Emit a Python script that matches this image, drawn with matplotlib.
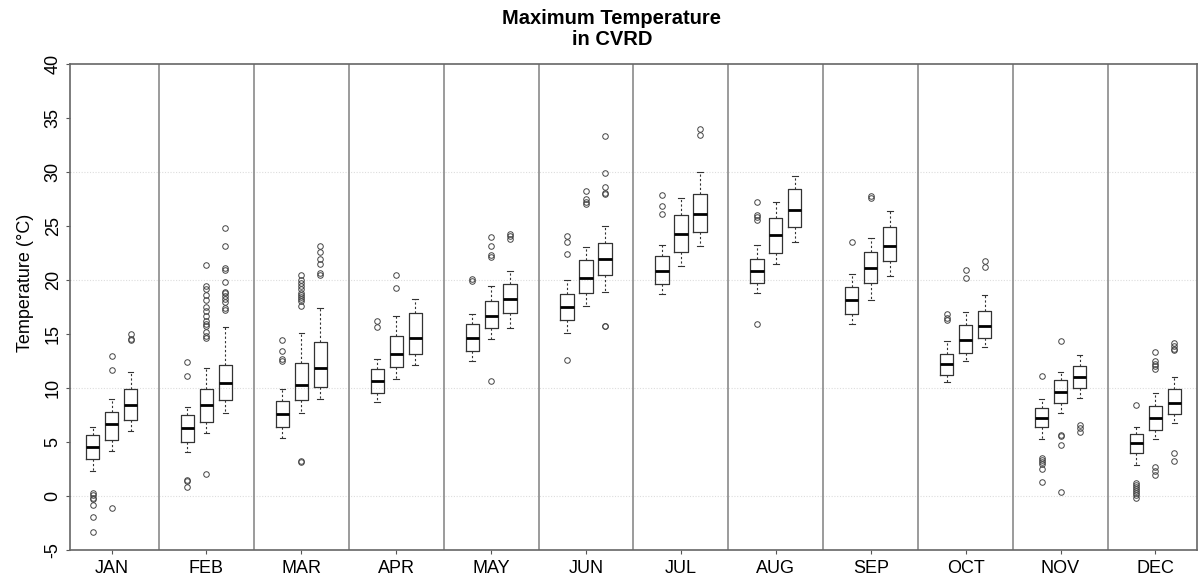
import numpy as np
import matplotlib.pyplot as plt

plt.rcParams['font.family'] = ['Liberation Sans', 'DejaVu Sans']

months = ['JAN', 'FEB', 'MAR', 'APR', 'MAY', 'JUN',
          'JUL', 'AUG', 'SEP', 'OCT', 'NOV', 'DEC']

# three boxes per month (left, middle, right)
whislo = [[2.3, 4.2, 6.0], [4.1, 5.85, 7.7], [5.4, 7.7, 9.0], [8.7, 10.8, 12.1],
          [12.5, 14.5, 15.5], [15.1, 17.6, 18.9], [18.65, 21.3, 23.1], [18.8, 21.45, 23.45],
          [15.9, 18.15, 20.37], [10.5, 12.45, 13.75], [5.3, 7.63, 9.1], [2.9, 5.23, 6.77]]
q1 = [[3.45, 5.2, 7.0], [5.0, 6.83, 8.86], [6.37, 8.86, 10.1], [9.54, 11.9, 13.1],
      [13.45, 15.5, 16.9], [16.3, 18.8, 20.4], [19.63, 22.6, 24.46], [19.7, 22.5, 24.86],
      [16.8, 19.66, 21.76], [11.2, 13.25, 14.64], [6.37, 8.6, 9.94], [3.94, 6.1, 7.54]]
med = [[4.52, 6.7, 8.45], [6.28, 8.43, 10.46], [7.54, 10.3, 11.8], [10.6, 13.1, 14.6],
       [14.6, 16.6, 18.25], [17.5, 20.2, 21.9], [20.8, 24.2, 26.1], [20.8, 24.1, 26.46],
       [18.1, 21.05, 23.16], [12.17, 14.43, 15.76], [7.23, 9.6, 11.0], [4.9, 7.17, 8.6]]
q3 = [[5.6, 7.8, 9.9], [7.45, 9.9, 12.12], [8.8, 12.3, 14.2], [11.75, 14.8, 16.9],
      [15.9, 18.06, 19.6], [18.7, 21.85, 23.4], [22.15, 26.0, 27.9], [21.9, 25.7, 28.37],
      [19.3, 22.6, 24.9], [13.1, 15.85, 17.15], [8.12, 10.7, 12.0], [5.7, 8.3, 9.85]]
whishi = [[6.37, 9.0, 11.45], [8.2, 11.88, 15.63], [9.85, 15.08, 17.35], [12.7, 16.6, 18.2],
          [16.86, 19.4, 20.8], [20.0, 23.0, 25.0], [23.17, 27.54, 30.0], [23.17, 27.17, 29.6],
          [20.5, 23.9, 26.4], [14.3, 17.0, 18.6], [8.98, 11.5, 13.0], [6.4, 9.48, 11.0]]
outliers = [
    [[0.3, 0.06, -0.15, -0.3, -0.83, -1.94, -3.3], [12.95, 11.66, -1.1], [15.0, 14.5, 14.4]],
    [[12.4, 11.1, 1.5, 1.35, 0.86],
     [21.4, 19.4, 19.1, 18.6, 18.15, 17.5, 17.1, 16.6, 16.15, 15.95, 15.7, 15.2, 14.8, 14.6, 2.0],
     [24.8, 23.1, 21.1, 20.9, 19.8, 18.9, 18.8, 18.5, 18.2, 17.9, 17.4, 17.2]],
    [[14.4, 13.4, 12.7, 12.5],
     [20.4, 20.0, 19.7, 19.4, 19.1, 18.8, 18.55, 18.4, 18.2, 18.0, 17.6, 3.23, 3.14],
     [23.1, 22.6, 21.9, 21.5, 20.6, 20.4]],
    [[16.15, 15.6], [20.4, 19.2], []],
    [[20.06, 19.85], [23.94, 23.08, 22.3, 22.1, 10.6], [24.25, 24.0, 23.75]],
    [[24.06, 23.45, 22.4, 12.6], [28.2, 27.45, 27.2, 27.0],
     [33.3, 29.85, 28.55, 28.06, 27.9, 15.75, 15.7]],
    [[27.8, 26.86, 26.12], [], [33.9, 33.4]],
    [[27.2, 26.0, 25.8, 25.5, 15.9], [], []],
    [[23.5], [27.7, 27.55], []],
    [[16.8, 16.5, 16.3], [20.93, 20.15], [21.7, 21.2]],
    [[11.05, 3.48, 3.3, 3.1, 2.95, 2.46, 1.3], [14.3, 5.6, 5.5, 4.68, 0.37], [6.55, 6.25, 5.9]],
    [[8.43, 1.17, 0.98, 0.8, 0.6, 0.43, 0.25, 0.06, -0.15],
     [13.3, 12.46, 12.2, 12.0, 11.75, 2.7, 2.3, 1.9],
     [14.15, 13.9, 13.6, 13.5, 3.94, 3.23]],
]

offsets = [-0.2, 0.0, 0.2]

stats = []
positions = []
for m in range(12):
    for k in range(3):
        stats.append(dict(whislo=whislo[m][k], q1=q1[m][k], med=med[m][k],
                          q3=q3[m][k], whishi=whishi[m][k], fliers=outliers[m][k]))
        positions.append(m + 1 + offsets[k])

fig = plt.figure(figsize=(12.02, 5.76), dpi=100)
ax = fig.add_axes([70 / 1202, 26 / 576, 1127 / 1202, 486.5 / 576])

for g in [0, 10, 20, 30]:
    ax.axhline(g, color='#dddddd', lw=0.8, ls=(0, (1, 1.5)), zorder=0)
for m in range(1, 12):
    ax.axvline(m + 0.5, color='#8a8a8a', lw=1.2, zorder=1)

ax.bxp(stats, positions=positions, widths=0.14, capwidths=0.06, patch_artist=False,
       boxprops=dict(color='#333333', lw=0.9),
       medianprops=dict(color='black', lw=2.0),
       whiskerprops=dict(color='#333333', lw=0.8, ls=(0, (2, 2))),
       capprops=dict(color='#333333', lw=0.8),
       flierprops=dict(marker='o', markersize=4, markerfacecolor='none',
                       markeredgecolor='#444444', markeredgewidth=0.7),
       manage_ticks=False)

ax.set_xlim(0.562, 12.438)
ax.set_ylim(-5, 40)
ax.set_xticks(range(1, 13))
ax.set_xticklabels(months, fontsize=13)
ax.set_yticks(range(-5, 41, 5))
ax.set_yticklabels([str(v) for v in range(-5, 41, 5)], fontsize=13,
                   rotation=90, va='center')
ax.tick_params(axis='both', length=3, width=0.8, color='#555555')
ax.tick_params(axis='x', pad=4)
ax.tick_params(axis='y', pad=3)

for s in ax.spines.values():
    s.set_color('#666666')
    s.set_linewidth(1.2)

ax.set_ylabel('Temperature (°C)', fontsize=13)
ax.yaxis.set_label_coords(-0.032, 0.549)

fig.text(612 / 1202, 1 - 29 / 576, 'Maximum Temperature\nin CVRD', ha='center', va='center',
         fontsize=14.5, fontweight='bold', linespacing=1.1)

fig.savefig('out.png', dpi=100)
